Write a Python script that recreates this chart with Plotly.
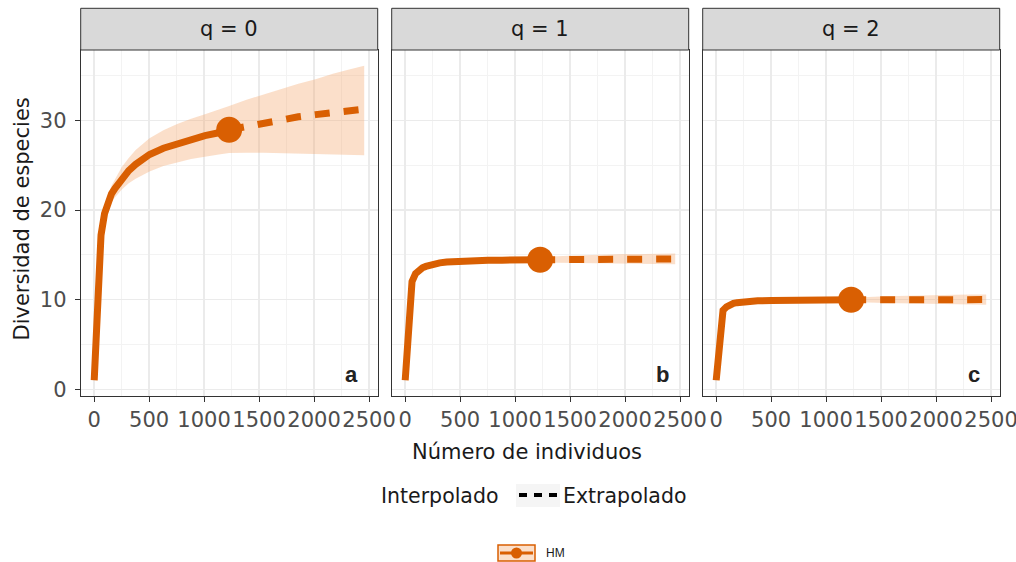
import plotly.graph_objects as go

# ---------------- data ----------------
m_interp = [1, 63, 95, 126, 158, 189, 252, 315, 378, 504, 630, 756, 882, 1008, 1134, 1228]
m_extrap = [1228, 1386, 1543, 1700, 1857, 2014, 2171, 2328, 2456]
m_obs = 1228

# q = 0
q0_interp = [1, 17.2, 19.6, 20.9, 21.8, 22.4, 23.5, 24.4, 25.1, 26.2, 26.9, 27.4, 27.9, 28.3, 28.62, 28.95]
q0_interp_lo = [1, 16.9, 19.0, 20.2, 20.9, 21.4, 22.3, 23.0, 23.5, 24.3, 24.9, 25.3, 25.7, 25.95, 26.2, 26.35]
q0_interp_hi = [1, 17.5, 20.2, 21.6, 22.7, 23.4, 24.8, 25.8, 26.7, 28.0, 28.9, 29.6, 30.2, 30.7, 31.2, 31.6]
q0_extrap = [28.95, 29.35, 29.75, 30.1, 30.4, 30.65, 30.9, 31.1, 31.25]
q0_extrap_lo = [26.35, 26.4, 26.4, 26.35, 26.3, 26.25, 26.2, 26.15, 26.1]
q0_extrap_hi = [31.6, 32.3, 32.9, 33.5, 34.1, 34.6, 35.2, 35.7, 36.1]

# q = 1
q1_interp = [1, 12.0, 12.9, 13.3, 13.55, 13.7, 13.95, 14.1, 14.2, 14.3, 14.35, 14.38, 14.4, 14.42, 14.44, 14.45]
q1_interp_lo = [1, 11.8, 12.6, 13.0, 13.25, 13.4, 13.65, 13.8, 13.9, 14.0, 14.05, 14.1, 14.12, 14.14, 14.15, 14.15]
q1_interp_hi = [1, 12.2, 13.2, 13.6, 13.85, 14.0, 14.25, 14.4, 14.5, 14.6, 14.65, 14.66, 14.68, 14.7, 14.73, 14.75]
q1_extrap = [14.45, 14.47, 14.49, 14.5, 14.51, 14.52, 14.53, 14.53, 14.54]
q1_extrap_lo = [14.15, 14.1, 14.05, 14.02, 14.0, 13.98, 13.96, 13.95, 13.94]
q1_extrap_hi = [14.75, 14.84, 14.93, 15.0, 15.05, 15.08, 15.1, 15.12, 15.14]

# q = 2
q2_interp = [1, 8.8, 9.2, 9.45, 9.58, 9.66, 9.76, 9.82, 9.86, 9.9, 9.93, 9.95, 9.96, 9.97, 9.98, 9.98]
q2_interp_lo = [1, 8.65, 9.05, 9.3, 9.43, 9.5, 9.6, 9.65, 9.68, 9.72, 9.74, 9.75, 9.75, 9.75, 9.75, 9.75]
q2_interp_hi = [1, 8.95, 9.35, 9.6, 9.73, 9.82, 9.92, 9.99, 10.04, 10.08, 10.12, 10.15, 10.17, 10.19, 10.21, 10.22]
q2_extrap = [9.98, 9.99, 9.99, 10.0, 10.0, 10.0, 10.0, 10.0, 10.0]
q2_extrap_lo = [9.75, 9.68, 9.62, 9.57, 9.53, 9.5, 9.47, 9.45, 9.43]
q2_extrap_hi = [10.22, 10.3, 10.38, 10.44, 10.48, 10.52, 10.55, 10.57, 10.58]

panel_titles = ["q = 0", "q = 1", "q = 2"]
panel_tags = ["a", "b", "c"]
x_ticks = [0, 500, 1000, 1500, 2000, 2500]
x_minor = [250, 750, 1250, 1750, 2250]
y_ticks = [0, 10, 20, 30]
y_minor = [5, 15, 25, 35]
site_name = "HM"
legend_labels = ["Interpolado", "Extrapolado"]

series = [
    (q0_interp, q0_interp_lo, q0_interp_hi, q0_extrap, q0_extrap_lo, q0_extrap_hi),
    (q1_interp, q1_interp_lo, q1_interp_hi, q1_extrap, q1_extrap_lo, q1_extrap_hi),
    (q2_interp, q2_interp_lo, q2_interp_hi, q2_extrap, q2_extrap_lo, q2_extrap_hi),
]

# ---------------- style ----------------
W, H = 1016, 562
ORANGE = "#D95F02"
BAND = "rgba(245,170,115,0.38)"
FONT = "DejaVu Sans"
X_RANGE = [-121.75, 2578.75]
Y_RANGE = [-0.76, 37.86]


def px(x):
    return x / W


def py(y):
    return 1 - y / H


panel_left = [80.7, 391.7, 702.7]
panel_w = 297.0
plot_top, plot_bot = 50.0, 396.0
strip_top = 8.3

fig = go.Figure()
layout = dict(
    width=W, height=H,
    margin=dict(l=0, r=0, t=0, b=0, autoexpand=False),
    paper_bgcolor="white", plot_bgcolor="white",
    showlegend=False,
    font=dict(family=FONT, color="#000000"),
)

shapes = []
annotations = []

for i, (yi, lo_i, hi_i, ye, lo_e, hi_e) in enumerate(series):
    xa = "x" if i == 0 else f"x{i+1}"
    ya = "y" if i == 0 else f"y{i+1}"
    xkey = "xaxis" if i == 0 else f"xaxis{i+1}"
    ykey = "yaxis" if i == 0 else f"yaxis{i+1}"

    # band (interp + extrap)
    m_all = m_interp + m_extrap[1:]
    lo_all = lo_i + lo_e[1:]
    hi_all = hi_i + hi_e[1:]
    fig.add_trace(go.Scatter(
        x=m_all + m_all[::-1], y=hi_all + lo_all[::-1],
        fill="toself", fillcolor=BAND, line=dict(width=0),
        mode="lines", hoverinfo="skip", xaxis=xa, yaxis=ya))
    # interpolated
    fig.add_trace(go.Scatter(
        x=m_interp, y=yi, mode="lines",
        line=dict(color=ORANGE, width=7), xaxis=xa, yaxis=ya))
    # extrapolated
    fig.add_trace(go.Scatter(
        x=m_extrap, y=ye, mode="lines",
        line=dict(color=ORANGE, width=7, dash="15px,14px"), xaxis=xa, yaxis=ya))
    # observed point
    fig.add_trace(go.Scatter(
        x=[m_obs], y=[yi[-1]], mode="markers",
        marker=dict(color=ORANGE, size=26), xaxis=xa, yaxis=ya))

    x0 = panel_left[i]
    x1 = x0 + panel_w
    layout[xkey] = dict(
        domain=[px(x0), px(x1)], range=X_RANGE, anchor=ya,
        tickmode="array", tickvals=x_ticks, ticktext=[str(v) for v in x_ticks],
        tickangle=0, automargin=False, ticklabeloverflow="allow",
        ticks="outside", ticklen=5, tickwidth=1, tickcolor="#333333",
        tickfont=dict(size=21, color="#4D4D4D", family=FONT),
        showline=True, mirror=True, linecolor="#333333", linewidth=1,
        showgrid=True, gridcolor="#EBEBEB", gridwidth=1.3, zeroline=False,
        minor=dict(tickmode="array", tickvals=x_minor, showgrid=True,
                   gridcolor="#F3F3F3", gridwidth=1, ticks=""),
        fixedrange=True,
    )
    layout[ykey] = dict(
        domain=[py(plot_bot), py(plot_top)], range=Y_RANGE, anchor=xa,
        tickmode="array", tickvals=y_ticks, ticktext=[str(v) for v in y_ticks],
        automargin=False,
        ticks="outside" if i == 0 else "", ticklen=5, tickwidth=1, tickcolor="#333333",
        showticklabels=(i == 0), ticklabelstandoff=4,
        tickfont=dict(size=21, color="#4D4D4D", family=FONT),
        showline=True, mirror=True, linecolor="#333333", linewidth=1,
        showgrid=True, gridcolor="#EBEBEB", gridwidth=1.3, zeroline=False,
        minor=dict(tickmode="array", tickvals=y_minor, showgrid=True,
                   gridcolor="#F3F3F3", gridwidth=1, ticks=""),
        fixedrange=True,
    )

    # strip
    shapes.append(dict(type="rect", xref="paper", yref="paper",
                       x0=px(x0), x1=px(x1), y0=py(plot_top), y1=py(strip_top),
                       fillcolor="#D9D9D9", line=dict(color="#333333", width=1)))
    annotations.append(dict(text=panel_titles[i], xref="paper", yref="paper",
                            x=px((x0 + x1) / 2), y=py((plot_top + strip_top) / 2),
                            showarrow=False, xanchor="center", yanchor="middle",
                            font=dict(size=21, color="#1A1A1A", family=FONT)))
    # panel tag
    annotations.append(dict(text=f"<b>{panel_tags[i]}</b>", xref="paper", yref="paper",
                            x=px(x0 + 271), y=py(374), showarrow=False,
                            xanchor="center", yanchor="middle",
                            font=dict(size=22, color="#222222", family="Liberation Sans")))

# axis titles
annotations.append(dict(text="Número de individuos", xref="paper", yref="paper",
                        x=px(527), y=py(452), showarrow=False,
                        xanchor="center", yanchor="middle",
                        font=dict(size=21, color="#1A1A1A", family=FONT)))
annotations.append(dict(text="Diversidad de especies", xref="paper", yref="paper",
                        x=px(21.5), y=py(219), showarrow=False, textangle=-90,
                        xanchor="center", yanchor="middle",
                        font=dict(size=21, color="#1A1A1A", family=FONT)))

# linetype legend
annotations.append(dict(text=legend_labels[0], xref="paper", yref="paper",
                        x=px(379), y=py(496), showarrow=False,
                        xanchor="left", yanchor="middle",
                        font=dict(size=20.5, color="#1A1A1A", family=FONT)))
annotations.append(dict(text=legend_labels[1], xref="paper", yref="paper",
                        x=px(561), y=py(496), showarrow=False,
                        xanchor="left", yanchor="middle",
                        font=dict(size=20.5, color="#1A1A1A", family=FONT)))
shapes.append(dict(type="rect", xref="paper", yref="paper",
                   x0=px(516), x1=px(560), y0=py(507), y1=py(484),
                   fillcolor="#F5F5F5", line=dict(width=0)))
shapes.append(dict(type="line", xref="paper", yref="paper",
                   x0=px(519), x1=px(557), y0=py(495), y1=py(495),
                   line=dict(color="#000000", width=4, dash="8px,7px")))

# site legend
shapes.append(dict(type="rect", xref="paper", yref="paper",
                   x0=px(498), x1=px(535), y0=py(561), y1=py(545),
                   fillcolor=BAND, line=dict(color=ORANGE, width=1.5)))
shapes.append(dict(type="line", xref="paper", yref="paper",
                   x0=px(500), x1=px(533), y0=py(553), y1=py(553),
                   line=dict(color=ORANGE, width=3)))
shapes.append(dict(type="circle", xref="paper", yref="paper",
                   x0=px(511), x1=px(522), y0=py(558.5), y1=py(547.5),
                   fillcolor=ORANGE, line=dict(color=ORANGE, width=0)))
annotations.append(dict(text=site_name, xref="paper", yref="paper",
                        x=px(544), y=py(553), showarrow=False,
                        xanchor="left", yanchor="middle",
                        font=dict(size=12, color="#1A1A1A", family="Liberation Sans")))

layout["shapes"] = shapes
layout["annotations"] = annotations
fig.update_layout(**layout)
fig.write_html(
    "out.html",
    config={"displayModeBar": False, "staticPlot": True},
    post_script="document.body.style.margin='0px';document.body.style.overflow='hidden';",
)
